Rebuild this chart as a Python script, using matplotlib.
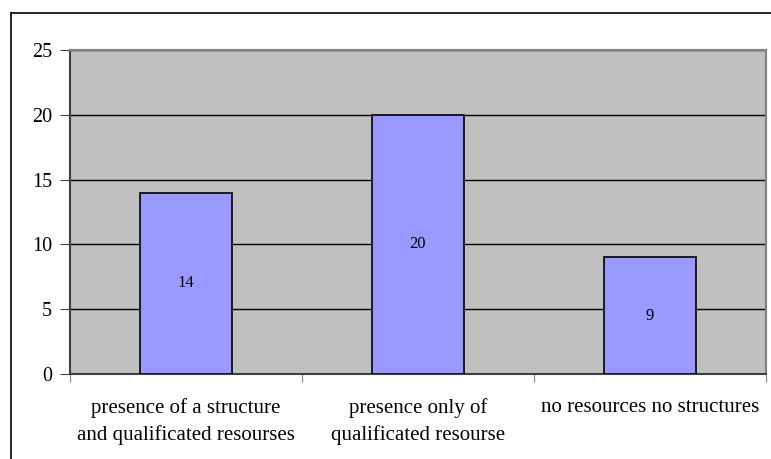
import matplotlib.pyplot as plt
from matplotlib.lines import Line2D

categories = ['presence of a structure\nand qualificated resourses',
              'presence only of\nqualificated resourse',
              'no resources no structures']
counts = [14, 20, 9]
yticks = [0, 5, 10, 15, 20, 25]

plt.rcParams['font.family'] = ['Liberation Serif', 'DejaVu Serif']

fig = plt.figure(figsize=(7.71, 4.59), dpi=100)
W, H = 771, 459
ax = fig.add_axes([70 / W, 1 - 374 / H, (766 - 70) / W, (374 - 50) / H])
ax.set_facecolor('#C0C0C0')

x = list(range(len(categories)))
bars = ax.bar(x, counts, width=0.4, color='#9999FF', edgecolor='black',
              linewidth=1.2, zorder=3)
for b, v in zip(bars, counts):
    ax.text(b.get_x() + b.get_width() / 2, v / 2, str(v),
            ha='center', va='center', fontsize=12, zorder=4)

ax.set_xlim(-0.5, len(categories) - 0.5)
ax.set_ylim(0, 25)
ax.set_yticks(yticks)
ax.yaxis.grid(True, color='black', linewidth=1)
ax.set_axisbelow(True)

ax.set_xticks([i - 0.5 for i in range(len(categories) + 1)])
ax.set_xticklabels([])
ax.set_xticks(x, minor=True)
ax.set_xticklabels(categories, minor=True, fontsize=15, linespacing=1.5)
ax.tick_params(axis='x', which='minor', length=0, pad=17)
ax.tick_params(axis='x', which='major', length=6, color='#808080', direction='out')
ax.tick_params(axis='y', length=7, labelsize=14.5, color='#404040', pad=6)

for s in ['top', 'right']:
    ax.spines[s].set_color('#808080')
    ax.spines[s].set_linewidth(1.5)
ax.spines['left'].set_color('#404040')
ax.spines['bottom'].set_color('#404040')
ax.spines['left'].set_linewidth(1.5)
ax.spines['bottom'].set_linewidth(1.5)

# outer chart frame
fig.add_artist(Line2D([11 / W, 11 / W], [0, 1 - 13 / H], color='black', linewidth=1.2))
fig.add_artist(Line2D([11 / W, 1], [1 - 13 / H, 1 - 13 / H], color='black', linewidth=1.2))

fig.savefig('out.png', dpi=100)
